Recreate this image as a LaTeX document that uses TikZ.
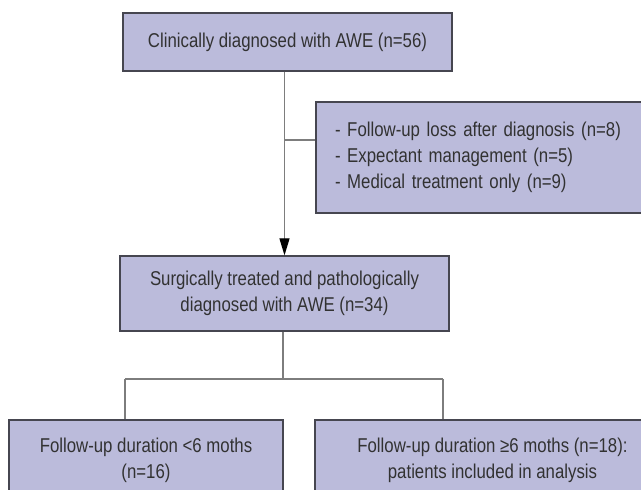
\documentclass[tikz,border=0pt]{standalone}
\usepackage{fontspec}
\setmainfont{Liberation Sans}[FakeStretch=0.84]
\usetikzlibrary{arrows.meta}
\definecolor{boxfill}{RGB}{187,187,219}
\definecolor{boxline}{RGB}{70,70,80}
\definecolor{conn}{RGB}{125,125,125}
\definecolor{txt}{RGB}{50,50,50}
\begin{document}
\begin{tikzpicture}[x=1pt,y=-1pt,
  flowbox/.style={draw=boxline,line width=1.3pt,fill=boxfill,rectangle,inner sep=0pt,
    text=txt,font=\fontsize{20}{26}\selectfont,align=center},
  link/.style={draw=conn,line width=1.2pt}]
\clip (0,0) rectangle (641,490);
\fill[white] (0,0) rectangle (641,490);
\node[flowbox,minimum width=329pt,minimum height=58pt] (b1) at (287.5,42) {Clinically diagnosed with AWE (n=56)};
\node[flowbox,minimum height=111pt,text width=291pt,inner xsep=19pt,align=left] (b2) at (480.5,157.5)
  {- Follow-up loss after diagnosis (n=8)\\- Expectant management (n=5)\\- Medical treatment only (n=9)};
\node[flowbox,minimum width=329pt,minimum height=75pt] (b3) at (284.5,293.5)
  {Surgically treated and pathologically\\diagnosed with AWE (n=34)};
\node[flowbox,minimum width=274pt,minimum height=80pt] (b4) at (146,460)
  {Follow-up duration <6 moths\\(n=16)};
\node[flowbox,minimum width=355pt,minimum height=80pt] (b5) at (492.5,460)
  {Follow-up duration ≥6 moths (n=18):\\patients included in analysis};
\coordinate (br) at (285,140);
\coordinate (sp) at (283,379);
\coordinate (jl) at (125,379);
\coordinate (jr) at (443,379);
\draw[link,-{Triangle[length=17pt,width=10pt,color=black]}] (b3.north |- b1.south) -- (b3.north);
\draw[link] (br) -- (br -| b2.west);
\draw[link] (b3.south -| sp) -- (sp);
\draw[link] (jl) -- (jr);
\draw[link] (jl) -- (jl |- b4.north);
\draw[link] (jr) -- (jr |- b5.north);
\end{tikzpicture}
\end{document}
